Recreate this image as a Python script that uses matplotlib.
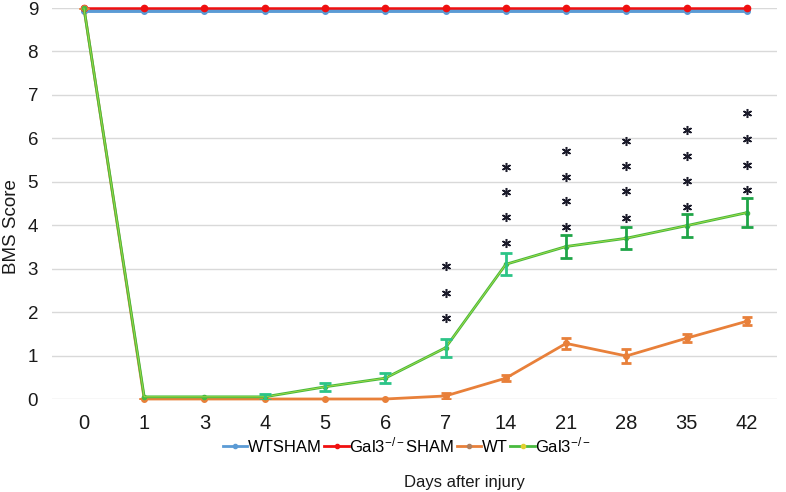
import matplotlib
matplotlib.use("Agg")
import matplotlib.pyplot as plt
from matplotlib.lines import Line2D
import numpy as np

plt.rcParams['font.family'] = ['Liberation Sans', 'DejaVu Sans']
plt.rcParams['mathtext.fontset'] = 'custom'
plt.rcParams['mathtext.rm'] = 'Liberation Sans'
plt.rcParams['mathtext.it'] = 'Liberation Sans:italic'
plt.rcParams['mathtext.default'] = 'regular'

days = ['0', '1', '3', '4', '5', '6', '7', '14', '21', '28', '35', '42']
wtsham = [8.94] * 12
gal3sham = [9.0] * 12
wt = [9.0, 0.0, 0.0, 0.0, 0.0, 0.0, 0.07, 0.48, 1.28, 0.99, 1.40, 1.79]
wt_err = [0, 0, 0, 0, 0, 0, 0.07, 0.07, 0.13, 0.17, 0.09, 0.09]
gal3 = [9.0, 0.05, 0.05, 0.05, 0.28, 0.48, 1.18, 3.10, 3.51, 3.70, 3.99, 4.29]
gal3_err = [0, 0, 0, 0.07, 0.09, 0.11, 0.21, 0.25, 0.26, 0.25, 0.26, 0.33]
# asterisk heights (significance marks) per day index
star_y = {
    6: [3.05, 2.45, 1.86],
    7: [5.35, 4.77, 4.18, 3.60],
    8: [5.70, 5.12, 4.55, 3.95],
    9: [5.93, 5.36, 4.78, 4.17],
    10: [6.19, 5.60, 5.02, 4.42],
    11: [6.58, 5.99, 5.39, 4.82],
}

legend_labels = ['WTSHAM', r'Gal3$^{-/-}$SHAM', 'WT', r'Gal3$^{-/-}$']
c_blue = '#5B9BD5'
c_red = '#F01010'
c_orange = '#E8803A'
c_green = '#48BA3E'
c_teal = '#2CC487'
c_dgreen = '#1FA547'

fig = plt.figure(figsize=(7.86, 4.92), dpi=100)
ax = fig.add_axes([52/786, (492-399)/492, (777-52)/786, (399-8)/492])
x = np.arange(len(days))

ax.plot(x, wtsham, color=c_blue, lw=2.8, marker='o', ms=4, clip_on=False, zorder=3)
ax.plot(x, gal3sham, color=c_red, lw=1.8, marker='o', ms=4.5, clip_on=False, zorder=4)

ax.plot(x, wt, color=c_orange, lw=2.0, marker='o', ms=4, clip_on=False, zorder=5)
ax.errorbar(x, wt, yerr=wt_err, fmt='none', ecolor=c_orange, elinewidth=2,
            capsize=3.5, capthick=2, zorder=5)

ax.plot(x, gal3, color=c_green, lw=2.0, marker='o', ms=3, clip_on=False, zorder=6)
ax.plot(x, gal3, color='#D8E84A', lw=0.5, alpha=0.8, clip_on=False, zorder=6)
ecols = [c_teal if i <= 7 else c_dgreen for i in range(len(days))]
for i in range(len(days)):
    if gal3_err[i] > 0:
        ax.errorbar([x[i]], [gal3[i]], yerr=[gal3_err[i]], fmt='none', ecolor=ecols[i],
                    elinewidth=2, capsize=4, capthick=2, zorder=7)

for i, ys in star_y.items():
    ax.plot([x[i]] * len(ys), ys, linestyle='none', marker=(6, 2, 0), ms=6.5,
            mew=1.1, color='#1b1b2a', zorder=8)

ax.set_xlim(-0.53, 11.5)
ax.set_ylim(0, 9)
ax.set_yticks(range(0, 10))
ax.set_xticks(x)
ax.set_xticklabels(days)
ax.tick_params(axis='both', length=0, colors='#1a1a1a')
ax.tick_params(axis='x', pad=11, labelsize=14.5)
ax.tick_params(axis='y', pad=10, labelsize=13.5)
ax.grid(axis='y', color='#d9d9d9', lw=1)
ax.set_axisbelow(True)
for s in ax.spines.values():
    s.set_visible(False)

fig.text(11.5/786, (492-227)/492, 'BMS Score', rotation=90, ha='center', va='center',
         fontsize=13.5, color='#1a1a1a')
fig.text(464/786, (492-482)/492, 'Days after injury', ha='center', va='center',
         fontsize=12, color='#1a1a1a')

handles = [
    Line2D([], [], color=c_blue, lw=2, marker='o', ms=3),
    Line2D([], [], color=c_red, lw=2, marker='o', ms=3),
    Line2D([], [], color=c_orange, lw=2, marker='o', ms=3, mfc='#B08060', mec='#B08060'),
    Line2D([], [], color=c_green, lw=2, marker='o', ms=3, mfc='#E0D030', mec='#E0D030'),
]
fig.legend(handles, legend_labels, loc='center', bbox_to_anchor=(407/786, (492-445)/492),
           ncol=4, frameon=False, fontsize=12, handlelength=1.45, handletextpad=0.05,
           columnspacing=0.15, borderpad=0)

fig.savefig('out.png', dpi=100)
